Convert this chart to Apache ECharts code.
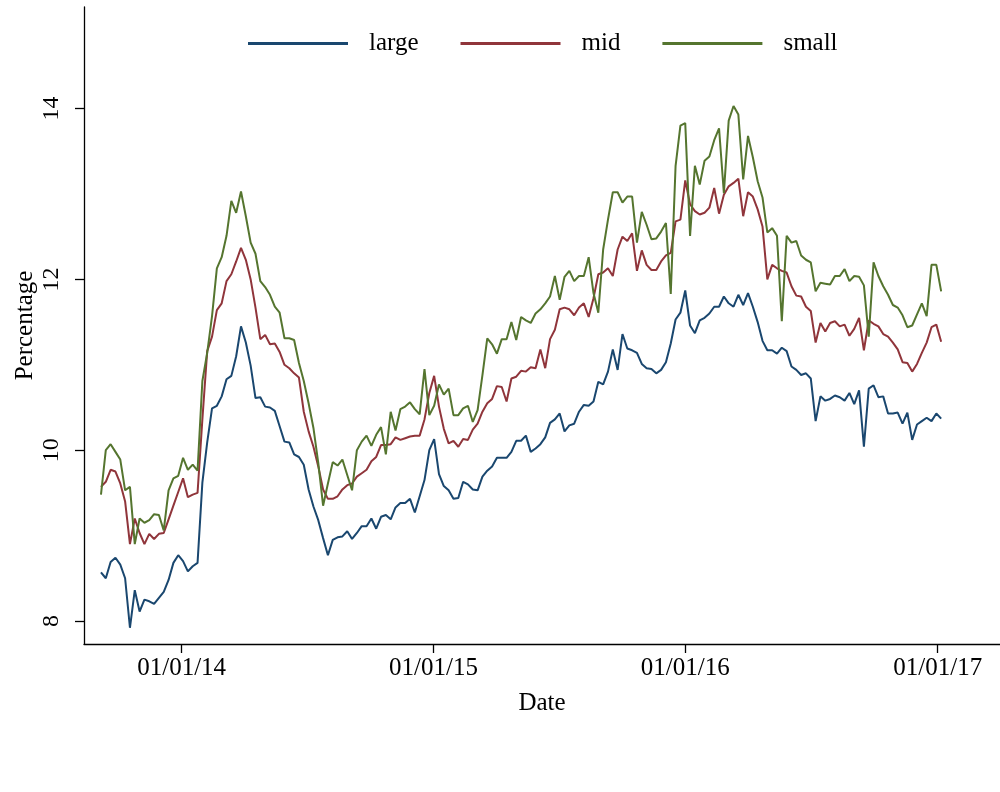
<!DOCTYPE html>
<html>
<head>
<meta charset="utf-8">
<script src="https://cdn.jsdelivr.net/npm/echarts@6/dist/echarts.min.js"></script>
<style>
  html, body { margin: 0; padding: 0; background: #fff; }
  #chart { width: 1000px; height: 792px; }
</style>
</head>
<body>
<div id="chart"></div>
<script>
// weekly observations, first one on 06/09/2013
var startDate = Date.UTC(2013, 8, 6);
var DAY = 86400000;

var large = [8.57,8.50,8.69,8.74,8.66,8.50,7.92,8.36,8.11,8.25,8.23,8.20,8.27,8.34,8.48,8.68,8.77,8.70,8.58,8.64,
  8.68,9.62,10.09,10.49,10.52,10.63,10.83,10.87,11.10,11.45,11.26,10.99,10.61,10.62,10.51,10.50,10.46,10.28,10.10,10.09,
  9.95,9.92,9.83,9.54,9.34,9.18,8.97,8.77,8.95,8.98,8.99,9.05,8.96,9.03,9.11,9.11,9.20,9.08,9.22,9.24,
  9.19,9.33,9.38,9.38,9.43,9.27,9.46,9.65,10.00,10.13,9.72,9.58,9.53,9.43,9.44,9.63,9.60,9.54,9.53,9.69,
  9.76,9.81,9.91,9.91,9.91,9.98,10.11,10.11,10.17,9.98,10.02,10.07,10.15,10.32,10.36,10.43,10.22,10.29,10.31,10.45,
  10.53,10.52,10.57,10.80,10.77,10.92,11.18,10.94,11.36,11.19,11.17,11.14,11.01,10.96,10.95,10.90,10.94,11.03,11.25,11.53,
  11.61,11.87,11.46,11.37,11.52,11.55,11.60,11.68,11.68,11.80,11.72,11.68,11.82,11.70,11.84,11.68,11.50,11.28,11.17,11.17,
  11.13,11.20,11.16,10.98,10.94,10.88,10.90,10.84,10.34,10.63,10.58,10.60,10.64,10.62,10.58,10.67,10.54,10.70,10.04,10.72,
  10.76,10.62,10.63,10.43,10.43,10.44,10.31,10.44,10.12,10.30,10.34,10.38,10.34,10.43,10.37];

var mid = [9.57,9.63,9.77,9.75,9.61,9.40,8.90,9.20,9.03,8.90,9.02,8.96,9.02,9.03,9.19,9.35,9.51,9.67,9.45,9.48,
  9.50,10.36,11.16,11.33,11.64,11.72,11.98,12.06,12.21,12.37,12.23,12.00,11.67,11.30,11.35,11.24,11.25,11.15,11.00,10.96,
  10.90,10.85,10.45,10.22,10.04,9.81,9.54,9.43,9.43,9.46,9.54,9.59,9.61,9.69,9.73,9.77,9.87,9.92,10.06,10.06,
  10.07,10.15,10.12,10.14,10.16,10.17,10.17,10.36,10.67,10.87,10.51,10.25,10.08,10.11,10.04,10.13,10.12,10.24,10.31,10.45,
  10.55,10.60,10.75,10.74,10.57,10.84,10.86,10.93,10.92,10.97,10.96,11.18,10.96,11.30,11.41,11.65,11.67,11.65,11.58,11.67,
  11.72,11.56,11.78,12.06,12.08,12.13,12.04,12.35,12.50,12.45,12.54,12.10,12.34,12.17,12.11,12.11,12.21,12.28,12.31,12.68,
  12.70,13.16,12.88,12.80,12.76,12.78,12.84,13.07,12.77,12.99,13.09,13.13,13.18,12.74,13.02,12.97,12.82,12.62,12.00,12.17,
  12.13,12.10,12.08,11.92,11.81,11.80,11.68,11.63,11.26,11.49,11.39,11.49,11.51,11.45,11.47,11.34,11.42,11.55,11.17,11.52,
  11.48,11.45,11.36,11.33,11.26,11.18,11.03,11.02,10.92,11.01,11.14,11.26,11.44,11.47,11.27];

var small = [9.48,10.00,10.07,9.98,9.89,9.53,9.57,8.90,9.20,9.15,9.18,9.25,9.24,9.06,9.53,9.67,9.70,9.91,9.77,9.83,
  9.76,10.81,11.14,11.57,12.13,12.26,12.51,12.92,12.78,13.03,12.74,12.43,12.30,11.98,11.91,11.82,11.68,11.61,11.31,11.31,
  11.29,11.02,10.81,10.55,10.26,9.85,9.35,9.61,9.86,9.82,9.89,9.71,9.53,10.00,10.10,10.17,10.05,10.18,10.27,9.95,
  10.45,10.23,10.48,10.51,10.56,10.48,10.42,10.95,10.41,10.52,10.77,10.65,10.72,10.41,10.41,10.49,10.52,10.33,10.47,10.88,
  11.31,11.24,11.13,11.30,11.30,11.50,11.29,11.56,11.52,11.49,11.60,11.65,11.72,11.80,12.04,11.76,12.03,12.10,11.98,12.04,
  12.04,12.26,11.84,11.61,12.35,12.70,13.02,13.02,12.90,12.97,12.97,12.43,12.79,12.64,12.47,12.48,12.56,12.66,11.83,13.33,
  13.80,13.83,12.51,13.33,13.11,13.39,13.44,13.63,13.77,13.01,13.86,14.03,13.93,13.17,13.68,13.43,13.15,12.96,12.55,12.60,
  12.51,11.51,12.51,12.43,12.45,12.28,12.23,12.20,11.86,11.96,11.95,11.94,12.04,12.04,12.12,11.98,12.04,12.03,11.93,11.33,
  12.20,12.04,11.92,11.82,11.70,11.67,11.58,11.44,11.46,11.59,11.72,11.57,12.17,12.17,11.86];

var yTicks = [8, 10, 12, 14];
var xTicks = [Date.UTC(2014, 0, 1), Date.UTC(2015, 0, 1), Date.UTC(2016, 0, 1), Date.UTC(2017, 0, 1)];

function pairs(vals) {
  var out = [];
  for (var i = 0; i < vals.length; i++) {
    out.push([startDate + i * 7 * DAY, vals[i]]);
  }
  return out;
}

function fmtDate(v) {
  var d = new Date(v);
  var dd = ('0' + d.getUTCDate()).slice(-2);
  var mm = ('0' + (d.getUTCMonth() + 1)).slice(-2);
  var yy = ('' + d.getUTCFullYear()).slice(-2);
  return dd + '/' + mm + '/' + yy;
}

var serif = '"Liberation Serif", "DejaVu Serif", serif';
var black = '#000';

var myChart = echarts.init(document.getElementById('chart'));
myChart.setOption({
  animation: false,
  backgroundColor: '#fff',
  textStyle: { fontFamily: serif },
  legend: {
    left: 243,
    top: 26,
    itemWidth: 100,
    itemHeight: 3,
    itemGap: 42,
    icon: 'rect',
    textStyle: { fontFamily: serif, fontSize: 25, color: black, padding: [0, 0, 0, 16] },
    data: ['large', 'mid', 'small']
  },
  grid: { left: 84, right: 0, top: 7, bottom: 148, outerBoundsMode: 'none', containLabel: false },
  xAxis: {
    type: 'value',
    min: xTicks[0] - 141.6 * DAY,
    max: xTicks[3] + 90.3 * DAY,
    name: 'Date',
    nameLocation: 'middle',
    nameGap: 47,
    nameTextStyle: { fontFamily: serif, fontSize: 25, color: black },
    axisLine: { lineStyle: { color: black, width: 1.3 } },
    axisTick: { show: true, length: 9, lineStyle: { color: black, width: 1.3 }, customValues: xTicks },
    axisLabel: { fontFamily: serif, fontSize: 25, color: black, margin: 12, customValues: xTicks, formatter: fmtDate },
    splitLine: { show: false }
  },
  yAxis: {
    type: 'value',
    min: 7.73,
    max: 15.19,
    name: 'Percentage',
    nameLocation: 'middle',
    nameGap: 46,
    nameMoveOverlap: false,
    nameTextStyle: { fontFamily: serif, fontSize: 25, color: black },
    axisLine: { show: true, lineStyle: { color: black, width: 1.3 } },
    axisTick: { show: true, length: 9, lineStyle: { color: black, width: 1.3 }, customValues: yTicks },
    axisLabel: { fontFamily: serif, fontSize: 24, color: black, rotate: 90, margin: 20, customValues: yTicks },
    splitLine: { show: false }
  },
  series: [
    { name: 'large', type: 'line', symbol: 'none', data: pairs(large),
      itemStyle: { color: '#1a476f' }, lineStyle: { color: '#1a476f', width: 2 } },
    { name: 'mid', type: 'line', symbol: 'none', data: pairs(mid),
      itemStyle: { color: '#90353b' }, lineStyle: { color: '#90353b', width: 2 } },
    { name: 'small', type: 'line', symbol: 'none', data: pairs(small),
      itemStyle: { color: '#55752f' }, lineStyle: { color: '#55752f', width: 2 } }
  ]
});
</script>
</body>
</html>
